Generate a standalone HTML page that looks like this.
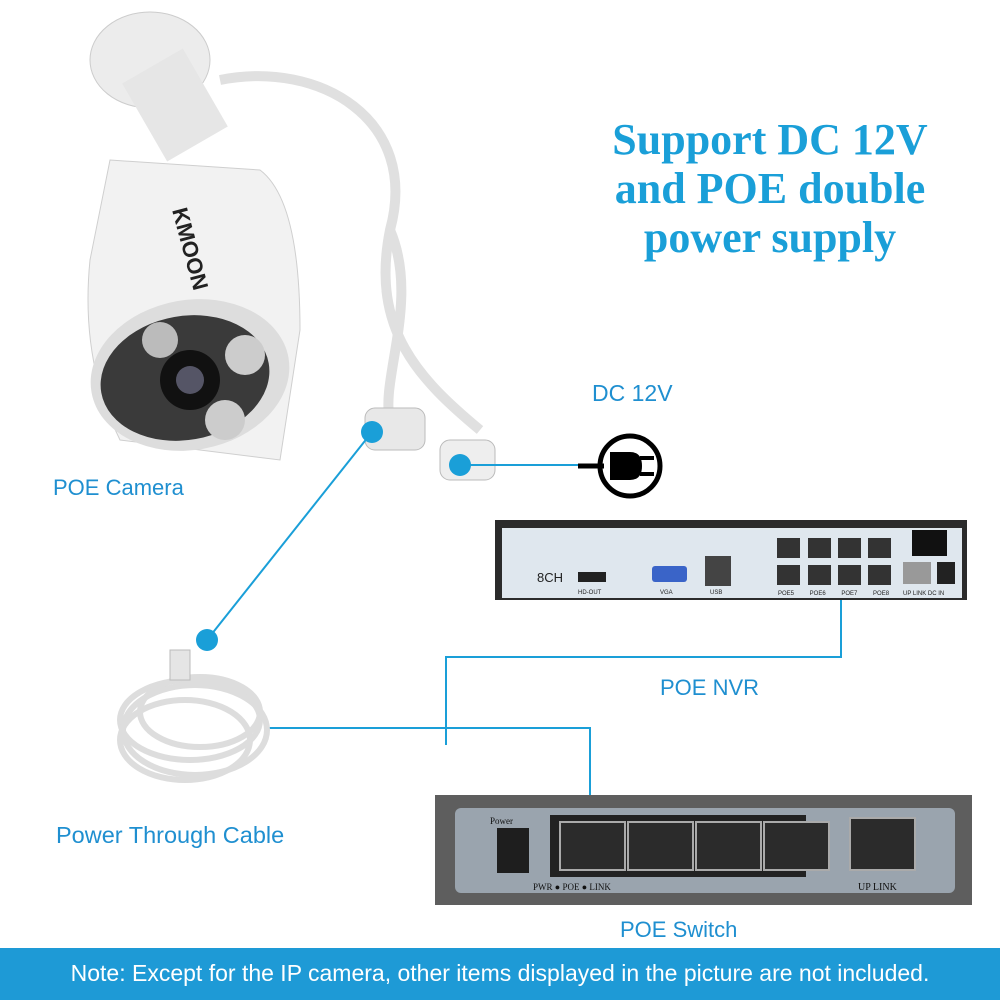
<!DOCTYPE html>
<html><head><style>
body{margin:0;width:1000px;height:1000px;background:#fff;position:relative;overflow:hidden;font-family:"Liberation Sans",sans-serif}
.t{position:absolute;color:#1f8fd0;font-size:22px}
</style></head><body>
<svg width="1000" height="1000" style="position:absolute;left:0;top:0">
<ellipse cx="150" cy="60" rx="60" ry="48" fill="#ececec" stroke="#ccc"/>
<rect x="140" y="60" width="70" height="90" fill="#e6e6e6" transform="rotate(-30 175 105)"/>
<path d="M220 80 C320 60 420 120 390 230 C370 330 420 380 480 430" stroke="#e0e0e0" stroke-width="10" fill="none"/>
<path d="M390 230 C420 300 380 380 390 420" stroke="#e0e0e0" stroke-width="10" fill="none"/>
<path d="M110 160 L260 170 Q300 200 300 330 L280 460 L120 440 Q80 360 90 260 Z" fill="#f2f2f2" stroke="#cfcfcf"/>
<ellipse cx="190" cy="375" rx="100" ry="75" fill="#ddd" transform="rotate(-10 190 375)"/>
<ellipse cx="185" cy="378" rx="85" ry="62" fill="#3a3a3a" transform="rotate(-10 185 378)"/>
<circle cx="190" cy="380" r="30" fill="#111"/>
<circle cx="190" cy="380" r="14" fill="#556"/>
<circle cx="245" cy="355" r="20" fill="#ccc"/>
<circle cx="225" cy="420" r="20" fill="#ccc"/>
<circle cx="160" cy="340" r="18" fill="#bbb"/>
<text x="172" y="210" font-size="22" font-weight="bold" fill="#222" transform="rotate(75 172 210)" font-family="Liberation Sans">KMOON</text>
<rect x="365" y="408" width="60" height="42" rx="10" fill="#e8e8e8" stroke="#bbb"/>
<rect x="440" y="440" width="55" height="40" rx="10" fill="#eee" stroke="#bbb"/>
<g stroke="#1a9fd8" stroke-width="2" fill="none">
<line x1="372" y1="432" x2="207" y2="640"/>
<line x1="460" y1="465" x2="600" y2="465"/>
<polyline points="841,600 841,657 446,657 446,745"/>
<polyline points="265,728 590,728 590,850"/>
</g>
<circle cx="372" cy="432" r="11" fill="#1a9fd8"/>
<circle cx="460" cy="465" r="11" fill="#1a9fd8"/>
<circle cx="207" cy="640" r="11" fill="#1a9fd8"/>
<line x1="578" y1="466" x2="604" y2="466" stroke="#000" stroke-width="5"/>
<circle cx="630" cy="466" r="30" fill="none" stroke="#000" stroke-width="5"/>
<path d="M610 452 h20 q12 0 12 14 q0 14 -12 14 h-20 z" fill="#000"/>
<rect x="640" y="456" width="14" height="4" fill="#000"/><rect x="640" y="472" width="14" height="4" fill="#000"/>
<g fill="none" stroke="#ddd" stroke-width="6">
<ellipse cx="190" cy="720" rx="70" ry="40"/><ellipse cx="195" cy="730" rx="72" ry="45"/><ellipse cx="185" cy="740" rx="65" ry="40"/><ellipse cx="200" cy="712" rx="60" ry="35"/>
</g>
<rect x="170" y="650" width="20" height="30" fill="#e5e5e5" stroke="#bbb"/>
<rect x="495" y="520" width="472" height="80" fill="#2b2b2b"/>
<rect x="502" y="528" width="460" height="70" fill="#dfe7ee"/>
<text x="537" y="582" font-size="13" fill="#222">8CH</text>
<rect x="578" y="572" width="28" height="10" fill="#222"/>
<text x="578" y="594" font-size="6" fill="#222">HD-OUT</text>
<rect x="652" y="566" width="35" height="16" rx="3" fill="#3a64c8"/>
<text x="660" y="594" font-size="6" fill="#222">VGA</text>
<rect x="705" y="556" width="26" height="30" fill="#444"/>
<text x="710" y="594" font-size="6" fill="#222">USB</text>
<g fill="#333">
<rect x="777" y="538" width="23" height="20"/><rect x="808" y="538" width="23" height="20"/><rect x="838" y="538" width="23" height="20"/><rect x="868" y="538" width="23" height="20"/>
<rect x="777" y="565" width="23" height="20"/><rect x="808" y="565" width="23" height="20"/><rect x="838" y="565" width="23" height="20"/><rect x="868" y="565" width="23" height="20"/>
<rect x="903" y="562" width="28" height="22" fill="#999"/><rect x="937" y="562" width="18" height="22" fill="#222"/>
<rect x="912" y="530" width="35" height="26" fill="#111"/>
</g>
<text x="778" y="595" font-size="6" fill="#222" word-spacing="14">POE5 POE6 POE7 POE8</text>
<text x="903" y="595" font-size="6" fill="#222">UP LINK DC IN</text>
<rect x="435" y="795" width="537" height="110" fill="#5e5e5e"/>
<rect x="455" y="808" width="500" height="85" rx="6" fill="#9aa4ae"/>
<rect x="497" y="828" width="32" height="45" fill="#1e1e1e"/>
<text x="490" y="824" font-size="9" fill="#111" font-family="Liberation Serif">Power</text>
<rect x="550" y="815" width="256" height="62" fill="#222"/>
<g fill="#2b2b2b" stroke="#aaa" stroke-width="2">
<rect x="560" y="822" width="65" height="48"/><rect x="628" y="822" width="65" height="48"/><rect x="696" y="822" width="65" height="48"/><rect x="764" y="822" width="65" height="48"/><rect x="850" y="818" width="65" height="52"/>
</g>
<text x="533" y="890" font-size="9" fill="#111" font-family="Liberation Serif">PWR   ● POE           ● LINK</text>
<text x="858" y="890" font-size="10" fill="#111" font-family="Liberation Serif">UP LINK</text>
<rect x="0" y="948" width="1000" height="52" fill="#1e9ad6"/>
</svg>
<div style="position:absolute;left:565px;top:115px;width:410px;text-align:center;color:#1a9fd8;font-family:'Liberation Serif',serif;font-weight:bold;font-size:44px;line-height:49px">Support DC 12V<br>and POE double<br>power supply</div>
<div class="t" style="left:592px;top:380px;font-size:23px">DC 12V</div>
<div class="t" style="left:53px;top:475px">POE Camera</div>
<div class="t" style="left:660px;top:675px">POE NVR</div>
<div class="t" style="left:56px;top:822px;font-size:23.5px">Power Through Cable</div>
<div class="t" style="left:620px;top:917px">POE Switch</div>
<div style="position:absolute;left:0;top:960px;width:1000px;text-align:center;color:#fff;font-size:23px;white-space:nowrap">Note: Except for the IP camera, other items displayed in the picture are not included.</div>
</body></html>
